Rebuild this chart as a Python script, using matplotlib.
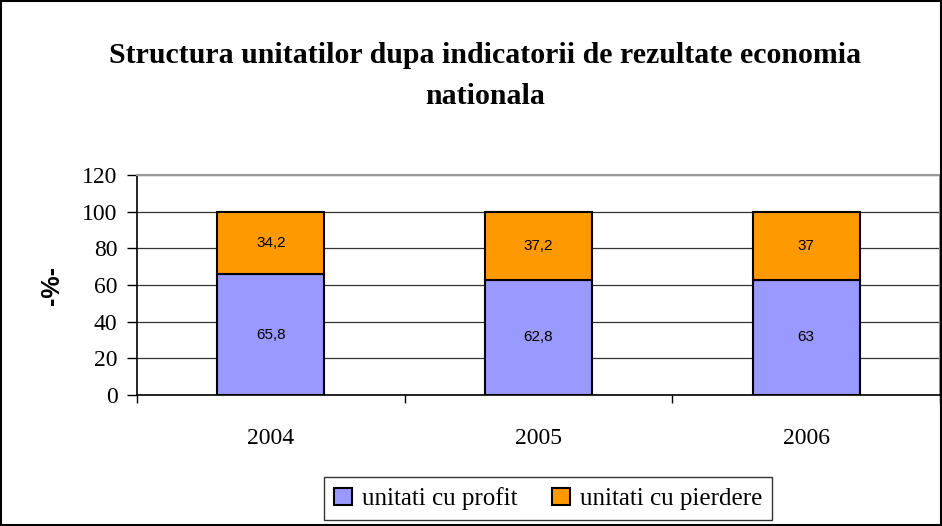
import matplotlib.pyplot as plt
from matplotlib.patches import Rectangle

years = ['2004', '2005', '2006']
profit = [65.8, 62.8, 63]
pierdere = [34.2, 37.2, 37]
profit_labels = ['65,8', '62,8', '63']
pierdere_labels = ['34,2', '37,2', '37']

serif = 'Liberation Serif'
sans = 'Liberation Sans'

fig = plt.figure(figsize=(9.42, 5.26), dpi=100)
ax = fig.add_axes([0.1454, 0.249, 0.8524, 0.418])

x = list(range(len(years)))
b1 = ax.bar(x, profit, width=0.4, color='#9999ff', edgecolor='black', linewidth=1.5,
            label='unitati cu profit', zorder=3)
b2 = ax.bar(x, pierdere, width=0.4, bottom=profit, color='#ff9900', edgecolor='black',
            linewidth=1.5, label='unitati cu pierdere', zorder=3)

for i in x:
    ax.text(i, profit[i] / 2, profit_labels[i], ha='center', va='center',
            fontsize=11, family=sans, zorder=4)
    ax.text(i, profit[i] + pierdere[i] / 2, pierdere_labels[i], ha='center', va='center',
            fontsize=11, family=sans, zorder=4)

ax.set_xlim(-0.5, 2.5)
ax.set_ylim(0, 120)
ax.set_yticks(range(0, 121, 20))
ax.set_yticklabels([str(v) for v in range(0, 121, 20)], family=serif, fontsize=17)
ax.yaxis.grid(True, color='#333333', linewidth=0.9, zorder=0)

ax.set_xticks(x)
ax.set_xticklabels(years, family=serif, fontsize=17)
ax.tick_params(axis='x', which='major', length=0, pad=24)
ax.set_xticks([-0.5, 0.5, 1.5, 2.5], minor=True)
ax.tick_params(axis='x', which='minor', length=6, direction='out', width=1)
ax.tick_params(axis='y', length=7, width=1, pad=7)

for s in ['top', 'right']:
    ax.spines[s].set_color('#999999')
    ax.spines[s].set_linewidth(1.5)
for s in ['left', 'bottom']:
    ax.spines[s].set_color('black')
    ax.spines[s].set_linewidth(1.2)

ax.set_ylabel('-%-', family=sans, fontsize=18, fontweight='bold', labelpad=13)

fig.text(0.515, 0.855, 'Structura unitatilor dupa indicatorii de rezultate economia\nnationala',
         ha='center', va='center', family=serif, fontsize=21.5, fontweight='bold',
         linespacing=1.65)

leg = fig.legend(loc='center', bbox_to_anchor=(0.582, 0.0515), ncol=2, frameon=True,
                 fancybox=False, edgecolor='black', prop={'family': serif, 'size': 18},
                 handlelength=0.7, handleheight=0.7, handletextpad=0.4, columnspacing=1.4,
                 borderpad=0.4)
leg.get_frame().set_linewidth(1.0)

fig.patches.append(Rectangle((0.001, 0.001), 0.998, 0.998, transform=fig.transFigure,
                             fill=False, edgecolor='black', linewidth=1.5))

fig.savefig('out.png', dpi=100)
